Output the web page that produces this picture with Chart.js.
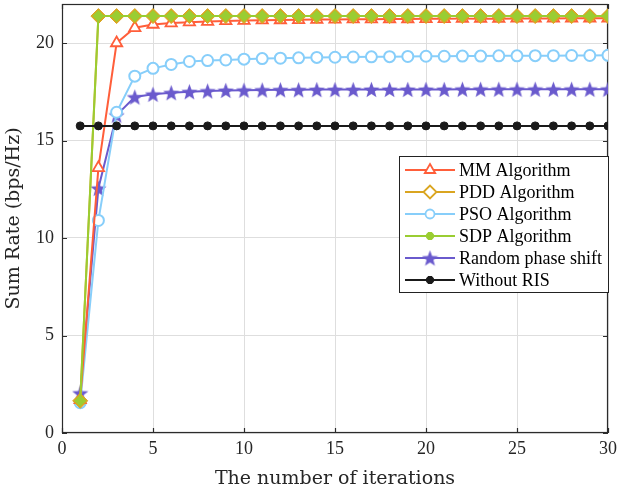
<!DOCTYPE html>
<html>
<head>
<meta charset="utf-8">
<script src="https://cdn.jsdelivr.net/npm/chart.js@4/dist/chart.umd.min.js"></script>
<style>
html,body{margin:0;padding:0;background:#fff;}
#wrap{width:619px;height:493px;}
</style>
</head>
<body>
<div id="wrap"><canvas id="c" width="619" height="493"></canvas></div>
<script>
const iterations = Array.from({length:30},(_,i)=>i+1);
const xTicks = [0,5,10,15,20,25,30];
const yTicks = [0,5,10,15,20];

const mmValues = [1.7,13.6,20.0,20.78,20.95,21.02,21.07,21.1,21.13,21.15,21.17,21.18,21.19,21.2,21.21,21.22,21.22,21.23,21.23,21.24,21.24,21.25,21.25,21.25,21.26,21.26,21.26,21.27,21.27,21.27];
const pddValues = [1.65,21.38,21.38,21.38,21.38,21.38,21.38,21.38,21.38,21.38,21.38,21.38,21.38,21.38,21.38,21.38,21.38,21.38,21.38,21.38,21.38,21.38,21.38,21.38,21.38,21.38,21.38,21.38,21.38,21.38];
const psoValues = [1.55,10.9,16.45,18.3,18.7,18.9,19.05,19.1,19.13,19.17,19.2,19.22,19.24,19.26,19.27,19.28,19.29,19.3,19.31,19.32,19.32,19.33,19.33,19.34,19.34,19.35,19.35,19.36,19.36,19.37];
const sdpValues = [1.65,21.38,21.38,21.38,21.38,21.38,21.38,21.38,21.38,21.38,21.38,21.38,21.38,21.38,21.38,21.38,21.38,21.38,21.38,21.38,21.38,21.38,21.38,21.38,21.38,21.38,21.38,21.38,21.38,21.38];
const randomValues = [2.05,12.55,16.3,17.23,17.37,17.45,17.5,17.54,17.57,17.58,17.59,17.6,17.6,17.61,17.61,17.61,17.62,17.62,17.62,17.62,17.62,17.63,17.63,17.63,17.63,17.63,17.63,17.63,17.63,17.63];
const noRisValues = [15.75,15.75,15.75,15.75,15.75,15.75,15.75,15.75,15.75,15.75,15.75,15.75,15.75,15.75,15.75,15.75,15.75,15.75,15.75,15.75,15.75,15.75,15.75,15.75,15.75,15.75,15.75,15.75,15.75,15.75];
const seriesNames = ['MM Algorithm','PDD Algorithm','PSO Algorithm','SDP Algorithm','Random phase shift','Without RIS'];

const C_MM = '#FF5E3A', C_PDD = '#DAA520', C_PSO = '#87CEFA', C_SDP = '#9ACD32', C_RND = '#6A5ACD', C_BLK = '#1a1a1a';
const FONT = '"Liberation Serif", "Times New Roman", serif';
const TFONT = '"DejaVu Serif", serif';

function makeStar(size, color){
  const cv = document.createElement('canvas');
  cv.width = size; cv.height = size;
  const g = cv.getContext('2d');
  const cx = size/2, cy = size/2 + size*0.05, R = size/2, r = R*0.42;
  g.beginPath();
  for(let i=0;i<10;i++){
    const a = -Math.PI/2 + i*Math.PI/5;
    const rr = i%2===0 ? R : r;
    const px = cx + rr*Math.cos(a), py = cy + rr*Math.sin(a);
    if(i===0) g.moveTo(px,py); else g.lineTo(px,py);
  }
  g.closePath();
  g.fillStyle = color; g.fill();
  return cv;
}
const starImg = makeStar(17, C_RND);

function pts(arr){ return arr.map((v,i)=>({x:iterations[i], y:v})); }

const datasets = [
  {label:seriesNames[0], data:pts(mmValues), borderColor:C_MM, backgroundColor:'#fff', pointStyle:'triangle', pointRadius:6.5, pointBorderWidth:1.8, pointBorderColor:C_MM, pointBackgroundColor:'#fff', borderWidth:2, order:4},
  {label:seriesNames[1], data:pts(pddValues), borderColor:C_PDD, backgroundColor:C_PDD, pointStyle:'rectRot', pointRadius:7.5, pointBorderWidth:1, pointBorderColor:C_PDD, pointBackgroundColor:C_PDD, borderWidth:2, order:3},
  {label:seriesNames[2], data:pts(psoValues), borderColor:C_PSO, backgroundColor:'#fff', pointStyle:'circle', pointRadius:5.5, pointBorderWidth:2, pointBorderColor:C_PSO, pointBackgroundColor:'#fff', borderWidth:2, order:5},
  {label:seriesNames[3], data:pts(sdpValues), borderColor:C_SDP, backgroundColor:C_SDP, pointStyle:'rectRot', pointRadius:6, pointBorderWidth:0, pointBorderColor:C_SDP, pointBackgroundColor:C_SDP, borderWidth:2, order:2},
  {label:seriesNames[4], data:pts(randomValues), borderColor:C_RND, backgroundColor:C_RND, pointStyle:starImg, pointRadius:8, borderWidth:2, order:6},
  {label:seriesNames[5], data:pts(noRisValues), borderColor:C_BLK, backgroundColor:C_BLK, pointStyle:'circle', pointRadius:4, pointBorderWidth:1, pointBorderColor:C_BLK, pointBackgroundColor:C_BLK, borderWidth:2, order:1}
];

const framePlugin = {
  id:'frame',
  beforeDatasetsDraw(chart){
    const {ctx, chartArea:a, scales:{x,y}} = chart;
    ctx.save();
    ctx.strokeStyle = '#2b2b2b'; ctx.lineWidth = 1.2;
    ctx.strokeRect(a.left+0.5, a.top+0.5, a.right-a.left-1, a.bottom-a.top-1);
    ctx.beginPath();
    const L = 5;
    xTicks.forEach(v=>{ const px = Math.round(x.getPixelForValue(v))+0.5;
      ctx.moveTo(px,a.bottom); ctx.lineTo(px,a.bottom-L);
      ctx.moveTo(px,a.top); ctx.lineTo(px,a.top+L); });
    yTicks.forEach(v=>{ const py = Math.round(y.getPixelForValue(v))+0.5;
      ctx.moveTo(a.left,py); ctx.lineTo(a.left+L,py);
      ctx.moveTo(a.right,py); ctx.lineTo(a.right-L,py); });
    ctx.stroke();
    ctx.restore();
  },
  afterDraw(chart){
    const ctx = chart.ctx;
    const bx = 399.5, by = 156.5, bw = 209, bh = 136;
    ctx.save();
    ctx.fillStyle = '#fff'; ctx.fillRect(bx,by,bw,bh);
    ctx.strokeStyle = '#222'; ctx.lineWidth = 1; ctx.strokeRect(bx,by,bw,bh);
    ctx.font = '18px ' + FONT;
    ctx.textBaseline = 'middle'; ctx.textAlign = 'left';
    const legendMarkers = [
      {style:'triangle', r:6, bg:'#fff', bc:C_MM, bw:1.8},
      {style:'rectRot', r:6.5, bg:'#fff', bc:C_PDD, bw:1.8},
      {style:'circle', r:4.5, bg:'#fff', bc:C_PSO, bw:1.8},
      {style:'star', r:4, bg:C_SDP, bc:C_SDP, bw:3},
      {style:starImg, r:8, bg:C_RND, bc:C_RND, bw:1},
      {style:'star', r:4, bg:C_BLK, bc:C_BLK, bw:3}
    ];
    datasets.forEach((ds,i)=>{
      const yy = 170 + i*22;
      ctx.strokeStyle = ds.borderColor; ctx.lineWidth = 2;
      ctx.beginPath(); ctx.moveTo(405,yy); ctx.lineTo(455,yy); ctx.stroke();
      const m = legendMarkers[i];
      ctx.fillStyle = m.bg; ctx.strokeStyle = m.bc; ctx.lineWidth = m.bw;
      Chart.helpers.drawPoint(ctx, {pointStyle:m.style, radius:m.r, borderWidth:m.bw, rotation:0}, 430, yy);
      ctx.fillStyle = '#000';
      ctx.fillText(ds.label, 459, yy+1);
    });
    ctx.restore();
  }
};

function zeroPad(s){ s.paddingLeft = 0; s.paddingRight = 0; s.paddingTop = 0; s.paddingBottom = 0; }

new Chart(document.getElementById('c'), {
  type:'line',
  data:{datasets},
  options:{
    responsive:false, animation:false,
    devicePixelRatio:1,
    layout:{autoPadding:false, padding:{left:0,right:11,top:4,bottom:0}},
    plugins:{legend:{display:false}, tooltip:{enabled:false}},
    elements:{line:{tension:0}},
    scales:{
      x:{type:'linear', min:0, max:30,
        afterBuildTicks(s){ s.ticks = xTicks.map(v=>({value:v})); },
        afterFit(s){ s.height = 60; zeroPad(s); },
        ticks:{font:{family:FONT,size:18}, color:'#262626', padding:5, maxRotation:0},
        grid:{color:'#dedede', lineWidth:1, drawTicks:false},
        border:{display:false},
        title:{display:true, text:'The number of iterations', font:{family:TFONT,size:19}, color:'#262626', padding:{top:4,bottom:3}}
      },
      y:{type:'linear', min:0, max:22,
        afterBuildTicks(s){ s.ticks = yTicks.map(v=>({value:v})); },
        afterFit(s){ s.width = 62; zeroPad(s); },
        ticks:{font:{family:FONT,size:18}, color:'#262626', padding:8},
        grid:{color:'#dedede', lineWidth:1, drawTicks:false},
        border:{display:false},
        title:{display:true, text:'Sum Rate (bps/Hz)', font:{family:TFONT,size:19}, color:'#262626', padding:{top:3,bottom:4}}
      }
    }
  },
  plugins:[framePlugin]
});
</script>
</body>
</html>
